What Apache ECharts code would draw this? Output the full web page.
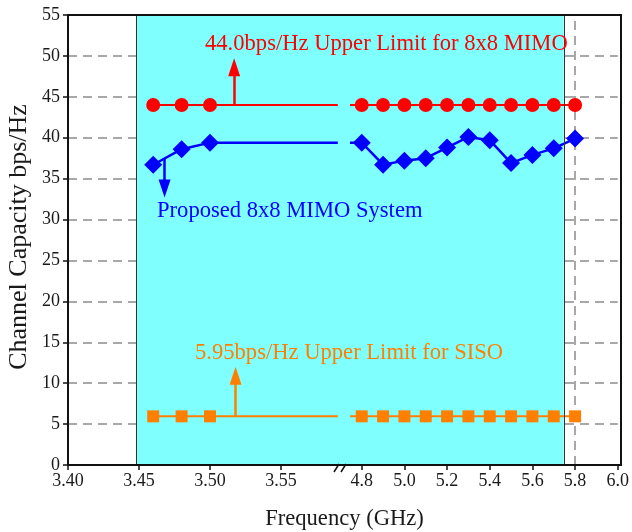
<!DOCTYPE html>
<html>
<head>
<meta charset="utf-8">
<script src="https://cdn.jsdelivr.net/npm/echarts@6/dist/echarts.min.js"></script>
<style>
html,body{margin:0;padding:0;background:#fff;}
#chart{width:632px;height:532px;}
</style>
</head>
<body>
<div id="chart"></div>
<script>
// ---- data ----
const leftFreq = [3.46, 3.48, 3.50];
const rightFreq = [4.8, 4.9, 5.0, 5.1, 5.2, 5.3, 5.4, 5.5, 5.6, 5.7, 5.8];
const mimoLimitLeft = [44, 44, 44];
const mimoLimitRight = [44, 44, 44, 44, 44, 44, 44, 44, 44, 44, 44];
const proposedLeft = [36.7, 38.6, 39.4];
const proposedRight = [39.4, 36.7, 37.2, 37.5, 38.8, 40.1, 39.7, 36.9, 37.9, 38.7, 39.9];
const sisoLeft = [5.95, 5.95, 5.95];
const sisoRight = [5.95, 5.95, 5.95, 5.95, 5.95, 5.95, 5.95, 5.95, 5.95, 5.95, 5.95];
const leftLineEnd = 3.59;      // where the plotted lines stop before the axis break
const rightLineStart = 4.745;  // where they resume after the break
const leftTicks = [3.40, 3.45, 3.50, 3.55];
const rightTicks = [4.8, 5.0, 5.2, 5.4, 5.6, 5.8, 6.0];
const yTicks = [0, 5, 10, 15, 20, 25, 30, 35, 40, 45, 50, 55];
const bandStart = 3.448, bandEnd = 5.747;   // shaded frequency band
const refLine = 5.8;
const mimoArrow = {x: 3.517, from: 44, to: 48.6};
const sisoArrow = {x: 3.518, from: 5.95, to: 10.9};
const propArrow = {x: 3.468, from: 37.4, to: 33.8};
const mimoText = '44.0bps/Hz Upper Limit for 8x8 MIMO';
const propText = 'Proposed 8x8 MIMO System';
const sisoText = '5.95bps/Hz Upper Limit for SISO';

// ---- layout ----
const FONT = '"Liberation Serif","Times New Roman",serif';
const L = 68, R = 621, T = 15, B = 465, BRK = 340, W = 632, H = 532;
const leftMin = 3.40, leftMax = 3.40 + (BRK - L) / 1420;
const rightMax = 6.0, rightMin = 4.8 - (362 - BRK) / 216;

const RED = '#ff0000', BLUE = '#0000ff', ORANGE = '#ff8000';

function withEnd(xs, ys, endX, atStart) {
  const pts = xs.map((x, i) => [x, ys[i]]);
  if (atStart) pts.unshift({value: [endX, ys[0]], symbol: 'none'});
  else pts.push({value: [endX, ys[ys.length - 1]], symbol: 'none'});
  return pts;
}

const dashed = {show: true, lineStyle: {color: '#8c8c8c', type: [9, 6], width: 1.5}};

const chart = echarts.init(document.getElementById('chart'), null, {renderer: 'canvas'});

function arrowLine(a, color) {
  return [
    {coord: [a.x, a.from], symbol: 'none'},
    {coord: [a.x, a.to], symbol: 'triangle', symbolSize: [12, 18], lineStyle: {color: color, width: 2.5, type: 'solid'}}
  ];
}

const option = {
  animation: false,
  backgroundColor: '#fff',
  grid: [
    {left: L, top: T, width: BRK - L, height: B - T},
    {left: BRK, top: T, width: R - BRK, height: B - T},
    {left: L, top: T, width: R - L, height: B - T, show: true, borderColor: '#111', borderWidth: 2, backgroundColor: 'transparent', z: 10}
  ],
  xAxis: [
    {gridIndex: 0, type: 'value', min: leftMin, max: leftMax,
     axisLine: {show: true, lineStyle: {color: '#111', width: 2}},
     axisTick: {show: true, inside: false, length: 5, customValues: leftTicks, lineStyle: {color: '#111', width: 1.5}},
     axisLabel: {customValues: leftTicks, formatter: v => v.toFixed(2), fontFamily: FONT, fontSize: 18, color: '#1a1a1a', margin: 7},
     splitLine: {show: false}},
    {gridIndex: 1, type: 'value', min: rightMin, max: rightMax,
     axisLine: {show: true, lineStyle: {color: '#111', width: 2}},
     axisTick: {show: true, inside: false, length: 5, customValues: rightTicks, lineStyle: {color: '#111', width: 1.5}},
     axisLabel: {customValues: rightTicks, formatter: v => v.toFixed(1), fontFamily: FONT, fontSize: 18, color: '#1a1a1a', margin: 7},
     splitLine: {show: false}},
    {gridIndex: 2, type: 'value', show: false}
  ],
  yAxis: [
    {gridIndex: 0, type: 'value', min: 0, max: 55, interval: 5,
     axisLine: {show: true, lineStyle: {color: '#111', width: 2}},
     axisTick: {show: true, length: 5, customValues: yTicks, lineStyle: {color: '#111', width: 1.5}},
     axisLabel: {customValues: yTicks, fontFamily: FONT, fontSize: 18, color: '#1a1a1a', margin: 8},
     splitLine: dashed},
    {gridIndex: 1, type: 'value', min: 0, max: 55, interval: 5,
     axisLine: {show: false}, axisTick: {show: false}, axisLabel: {show: false},
     splitLine: dashed},
    {gridIndex: 2, type: 'value', show: false}
  ],
  series: [
    // ---- left segment ----
    {type: 'line', xAxisIndex: 0, yAxisIndex: 0, data: withEnd(leftFreq, sisoLeft, leftLineEnd, false),
     symbol: 'rect', symbolSize: 12, itemStyle: {color: ORANGE}, lineStyle: {color: ORANGE, width: 2},
     markArea: {silent: true, itemStyle: {color: '#80ffff', opacity: 1},
       data: [[{xAxis: bandStart, yAxis: 0}, {xAxis: leftMax, yAxis: 55}]]},
     markLine: {silent: true, symbol: 'none', label: {show: false},
       data: [
         [{coord: [bandStart, 0], symbol: 'none', lineStyle: {color: '#333', width: 1, type: 'solid'}}, {coord: [bandStart, 55], symbol: 'none'}],
         arrowLine(sisoArrow, ORANGE)
       ]}},
    {type: 'line', xAxisIndex: 0, yAxisIndex: 0, data: withEnd(leftFreq, mimoLimitLeft, leftLineEnd, false),
     symbol: 'circle', symbolSize: 14, itemStyle: {color: RED}, lineStyle: {color: RED, width: 2},
     markLine: {silent: true, symbol: 'none', label: {show: false}, data: [arrowLine(mimoArrow, RED)]}},
    {type: 'line', xAxisIndex: 0, yAxisIndex: 0, data: withEnd(leftFreq, proposedLeft, leftLineEnd, false),
     symbol: 'diamond', symbolSize: 18, itemStyle: {color: BLUE}, lineStyle: {color: BLUE, width: 2.5},
     markLine: {silent: true, symbol: 'none', label: {show: false}, data: [arrowLine(propArrow, BLUE)]}},
    // ---- right segment ----
    {type: 'line', xAxisIndex: 1, yAxisIndex: 1, data: withEnd(rightFreq, sisoRight, rightLineStart, true),
     symbol: 'rect', symbolSize: 12, itemStyle: {color: ORANGE}, lineStyle: {color: ORANGE, width: 2},
     markArea: {silent: true, itemStyle: {color: '#80ffff', opacity: 1},
       data: [[{xAxis: rightMin, yAxis: 0}, {xAxis: bandEnd, yAxis: 55}]]},
     markLine: {silent: true, symbol: 'none', label: {show: false},
       data: [
         [{coord: [bandEnd, 0], symbol: 'none', lineStyle: {color: '#333', width: 1, type: 'solid'}}, {coord: [bandEnd, 55], symbol: 'none'}]
       ]}},
    {type: 'line', xAxisIndex: 1, yAxisIndex: 1, data: withEnd(rightFreq, mimoLimitRight, rightLineStart, true),
     symbol: 'circle', symbolSize: 14, itemStyle: {color: RED}, lineStyle: {color: RED, width: 2},
     markLine: {silent: true, z: 1, symbol: 'none', label: {show: false},
       data: [
         [{coord: [refLine, 0], symbol: 'none', lineStyle: {color: '#8c8c8c', width: 1.5, type: [9, 6]}}, {coord: [refLine, 55], symbol: 'none'}]
       ]}},
    {type: 'line', xAxisIndex: 1, yAxisIndex: 1, data: withEnd(rightFreq, proposedRight, rightLineStart, true),
     symbol: 'diamond', symbolSize: 18, itemStyle: {color: BLUE}, lineStyle: {color: BLUE, width: 2.5}}
  ],
  graphic: [
    {type: 'text', left: 205, top: 33, z: 20, style: {text: mimoText, fill: RED, font: '22.6px ' + FONT}},
    {type: 'text', left: 157, top: 200, z: 20, style: {text: propText, fill: BLUE, font: '22.6px ' + FONT}},
    {type: 'text', left: 195, top: 342, z: 20, style: {text: sisoText, fill: ORANGE, font: '22.6px ' + FONT}},
    {type: 'text', x: (L + R) / 2, y: 519, z: 20, style: {text: 'Frequency (GHz)', fill: '#1a1a1a', font: '22.6px ' + FONT, align: 'center', verticalAlign: 'middle'}},
    {type: 'text', x: 19, y: 237, rotation: Math.PI / 2, z: 20, style: {text: 'Channel Capacity bps/Hz', fill: '#1a1a1a', font: '26px ' + FONT, align: 'center', verticalAlign: 'middle'}},
    {type: 'line', z: 20, shape: {x1: 334, y1: 472, x2: 339, y2: 464}, style: {stroke: '#111', lineWidth: 1.5}},
    {type: 'line', z: 20, shape: {x1: 341, y1: 472, x2: 346, y2: 464}, style: {stroke: '#111', lineWidth: 1.5}}
  ]
};
chart.setOption(option);
</script>
</body>
</html>
